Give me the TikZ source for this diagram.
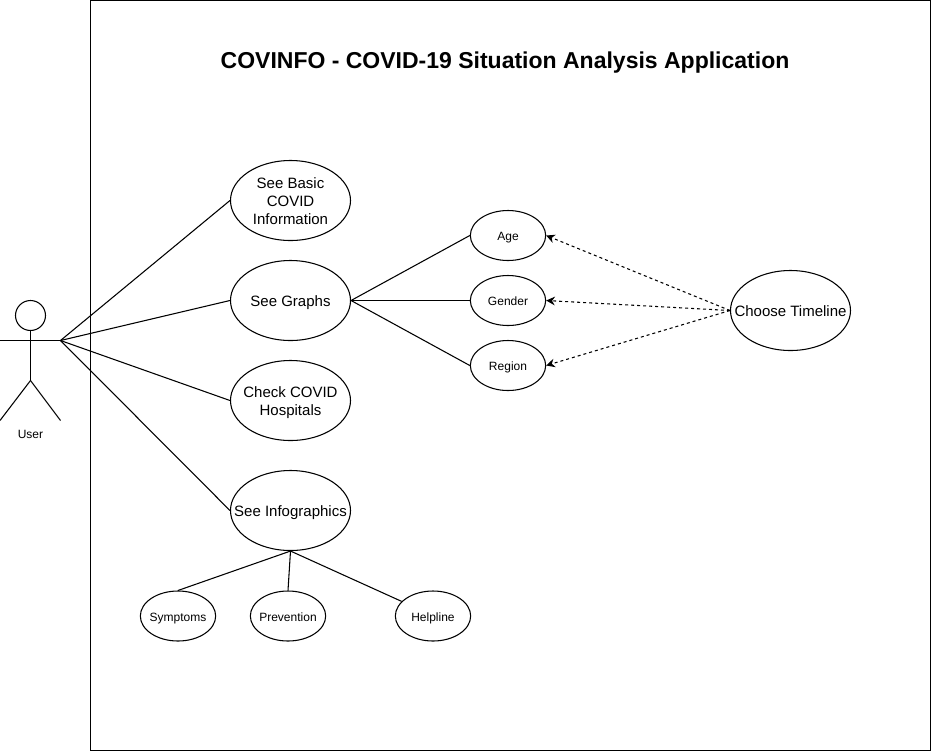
\documentclass[tikz,border=0pt]{standalone}
\usepackage{fontspec}
\setmainfont{Liberation Sans}
\usetikzlibrary{shapes.geometric,arrows.meta}

\begin{document}
\begin{tikzpicture}[x=0.75pt,y=-0.75pt,
    usecase/.style ={ellipse, draw, thick, inner ysep=0pt, inner xsep=-16pt, minimum width=90pt, minimum height=60pt, text height=11pt, text depth=1.5pt, align=center, font=\fontsize{11.25}{13.5}\selectfont},
    subcase/.style ={ellipse, draw, thick, inner ysep=0pt, inner xsep=-8pt, minimum width=56.5pt, minimum height=37.5pt, text height=8.8pt, text depth=1.2pt, align=center, font=\fontsize{9}{11}\selectfont},
    dependency/.style ={thick, dash pattern=on 2.25pt off 2.25pt, -{Stealth[length=6.5pt,width=6.5pt]}}]
   \useasboundingbox (0,0) rectangle (931,751);
   \draw[thick] (90.5,0) rectangle (930.5,750.5);
   \node[font=\bfseries\fontsize{17.25}{21}\selectfont] (title) at (505,62.5) {COVINFO - COVID-19 Situation Analysis Application};

   \node[circle, draw, thick, inner sep=0pt, minimum size=22.5pt] (head) at (30.5,315.5) {};
   \coordinate (hip) at (30.5,380.5);
   \coordinate (handL) at (0,340.5);
   \coordinate (handR) at (60.5,340.5);
   \coordinate (footL) at (0,420.5);
   \coordinate (footR) at (60.5,420.5);
   \node[font=\fontsize{9}{11}\selectfont, text height=8.8pt, text depth=1.2pt] (user) at (30.5,433.5) {User};
   \draw[thick] (head) to (hip);
   \draw[thick] (handL) to (handR);
   \draw[thick] (footL) to (hip);
   \draw[thick] (hip) to (footR);

   \node[usecase, text height=38pt] (basic) at (290.5,200.5) {See Basic\\COVID\\Information};
   \node[usecase] (graphs) at (290.5,300.5) {See Graphs};
   \node[usecase, text height=24.5pt] (hospitals) at (290.5,400.5) {Check COVID\\Hospitals};
   \node[usecase] (infographics) at (290.5,510.5) {See Infographics};
   \node[usecase] (timeline) at (790.5,310.5) {Choose Timeline};

   \node[subcase] (age) at (508,235.5) {Age};
   \node[subcase] (gender) at (508,300.5) {Gender};
   \node[subcase] (region) at (508,365.5) {Region};
   \node[subcase] (symptoms) at (178,616) {Symptoms};
   \node[subcase] (prevention) at (288,616) {Prevention};
   \node[subcase] (helpline) at (433,616) {Helpline};

   \draw[thick] (handR) to (basic.west);
   \draw[thick] (handR) to (graphs.west);
   \draw[thick] (handR) to (hospitals.west);
   \draw[thick] (handR) to (infographics.west);

   \draw[thick] (graphs.east) to (age.west);
   \draw[thick] (graphs.east) to (gender.west);
   \draw[thick] (graphs.east) to (region.west);

   \draw[thick] (infographics.south) to (symptoms.north);
   \draw[thick] (infographics.south) to (prevention.north);
   \draw[thick] (infographics.south) to (helpline.155);

   \draw[dependency] (timeline.west) to (age.east);
   \draw[dependency] (timeline.west) to (gender.east);
   \draw[dependency] (timeline.west) to (region.east);
 \end{tikzpicture}
\end{document}
